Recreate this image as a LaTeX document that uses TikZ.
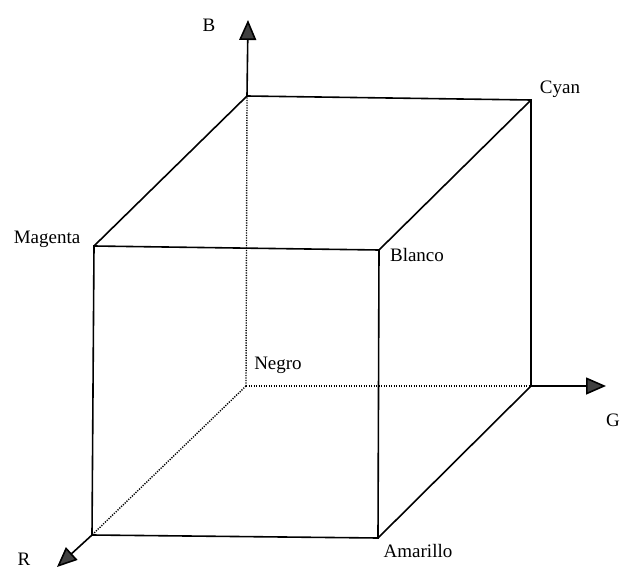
\documentclass[tikz,border=0pt]{standalone}
\usepackage{fontspec}
\setmainfont{Liberation Serif}
\usetikzlibrary{arrows.meta}
\begin{document}
\begin{tikzpicture}[x=1pt,y=-1pt,
  edge/.style={line width=1.6pt, line cap=round},
  hidden/.style={line width=1.4pt, dash pattern=on 1.2pt off 1.3pt},
  axis/.style={line width=1.6pt, -{Triangle[length=20pt,width=17pt,fill=black!75]}},
  lbl/.style={font=\fontsize{19}{20}\selectfont, inner sep=0pt}]
\useasboundingbox (0,0) rectangle (621,572);
% cube corners
\coordinate (O) at (246,386);
\coordinate (BT) at (247,96);
\coordinate (C) at (531,100);
\coordinate (GC) at (531,386);
\coordinate (M) at (94,246);
\coordinate (W) at (379,250);
\coordinate (RC) at (92,535);
\coordinate (Y) at (378,538);
% axis ends
\coordinate (Btip) at (248,20);
\coordinate (Gtip) at (606,386);
\coordinate (Rtip) at (57,567);
% hidden edges
\draw[hidden] (O) -- (BT);
\draw[hidden] (O) -- (GC);
\draw[hidden] (O) -- (RC);
% visible edges
\draw[edge] (BT) -- (C) -- (GC);
\draw[edge] (BT) -- (M);
\draw[edge] (C) -- (W);
\draw[edge] (GC) -- (Y);
\draw[edge] (M) -- (W) -- (Y) -- (RC) -- cycle;
% axes
\draw[axis] (BT) -- (Btip);
\draw[axis] (GC) -- (Gtip);
\draw[axis] (RC) -- (Rtip);
% labels
\node[lbl] (lB) at (209,25) {B};
\node[lbl] (lCyan) at (560,89) {Cyan};
\node[lbl] (lMag) at (47,239) {Magenta};
\node[lbl] (lBlanco) at (417,255) {Blanco};
\node[lbl] (lNegro) at (278,365) {Negro};
\node[lbl] (lG) at (613,420) {G};
\node[lbl] (lR) at (24,559) {R};
\node[lbl] (lAm) at (418,551) {Amarillo};
\end{tikzpicture}
\end{document}
